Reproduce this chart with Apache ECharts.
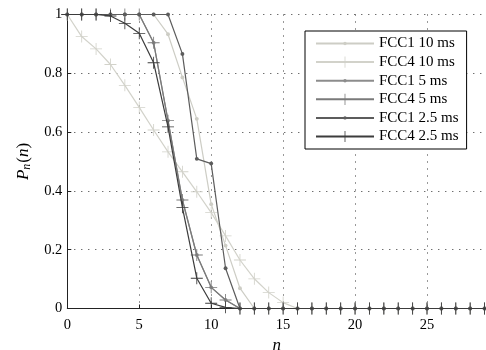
<!DOCTYPE html>
<html><head><meta charset="utf-8">
<script src="https://cdn.jsdelivr.net/npm/echarts@6/dist/echarts.min.js"></script>
<style>html,body{margin:0;padding:0;background:#fff}#c{width:486px;height:350px}</style>
</head><body><div id="c"></div>
<script>
const n = Array.from({length: 30}, (_, i) => i);
const seriesNames = ['FCC1 10 ms', 'FCC4 10 ms', 'FCC1 5 ms', 'FCC4 5 ms', 'FCC1 2.5 ms', 'FCC4 2.5 ms'];
const fcc1_10 = [1,1,1,1,1,1,1,0.933,0.786,0.645,0.355,0.214,0.069,0,0,0,0,0,0,0,0,0,0,0,0,0,0,0,0,0];
const fcc4_10 = [1,0.925,0.883,0.83,0.759,0.684,0.607,0.533,0.465,0.397,0.326,0.247,0.165,0.101,0.054,0.02,0,0,0,0,0,0,0,0,0,0,0,0,0,0];
const fcc1_5 = [1,1,1,1,1,1,0.904,0.639,0.369,0.182,0.072,0.029,0,0,0,0,0,0,0,0,0,0,0,0,0,0,0,0,0,0];
const fcc4_5 = [1,1,1,1,1,1,0.904,0.639,0.369,0.182,0.072,0.029,0,0,0,0,0,0,0,0,0,0,0,0,0,0,0,0,0,0];
const fcc1_25 = [1,1,1,1,1,1,1,1,0.866,0.509,0.493,0.137,0,0,0,0,0,0,0,0,0,0,0,0,0,0,0,0,0,0];
const fcc4_25 = [1,1,1,0.995,0.97,0.936,0.836,0.618,0.344,0.103,0.018,0.004,0,0,0,0,0,0,0,0,0,0,0,0,0,0,0,0,0,0];
const values = [fcc1_10, fcc4_10, fcc1_5, fcc4_5, fcc1_25, fcc4_25];
const colors = ['#cdcdc5', '#d2d2ca', '#8c8c8c', '#7a7a7a', '#5c5c5c', '#3c3c3c'];
const plus = 'path://M-1,-0.07H1V0.07H-1Z M-0.07,-1H0.07V1H-0.07Z';
const dot = 'path://M-1,-1M1,1M0.3,0A0.3,0.3,0,1,1,-0.3,0A0.3,0.3,0,1,1,0.3,0Z';
const symbols = [dot, plus, dot, plus, dot, plus];
const sizes = [13, 12, 13, 12, 13, 12];

const chart = echarts.init(document.getElementById('c'), null, {renderer: 'canvas'});
const font = '"Liberation Serif", "DejaVu Serif", serif';
chart.setOption({
  animation: false,
  backgroundColor: '#fff',
  grid: {left: 67.3, right: 0, top: 14.5, bottom: 41.5, containLabel: false, outerBoundsMode: 'none'},
  legend: {
    left: 305, top: 31, orient: 'vertical',
    borderColor: '#000', borderWidth: 1, backgroundColor: '#fff',
    padding: [5, 8, 5, 10], itemWidth: 58, itemHeight: 14, itemGap: 3.6,
    textStyle: {fontFamily: font, fontSize: 15, color: '#000'},
    data: seriesNames
  },
  xAxis: {
    type: 'value', min: 0, max: 29.1, interval: 5,
    name: 'n', nameLocation: 'middle', nameGap: 22,
    nameTextStyle: {fontFamily: font, fontSize: 17, fontStyle: 'italic', color: '#000'},
    axisLine: {lineStyle: {color: '#222', width: 1}},
    axisTick: {inside: true, length: 4, lineStyle: {color: '#222'}},
    axisLabel: {fontFamily: font, fontSize: 14.5, color: '#000', margin: 9, showMaxLabel: false},
    splitLine: {show: true, lineStyle: {color: '#333', type: [1, 6], width: 1}}
  },
  yAxis: {
    type: 'value', min: 0, max: 1, interval: 0.2,
    name: '{i|P}{s|n}{r|(}{i|n}{r|)}', nameLocation: 'middle', nameGap: 31, nameRotate: 90,
    nameTextStyle: {
      fontFamily: font, fontSize: 17, color: '#000',
      rich: {
        i: {fontFamily: font, fontSize: 17, fontStyle: 'italic', color: '#000'},
        s: {fontFamily: font, fontSize: 12, fontStyle: 'italic', color: '#000', padding: [8, 1, 0, 0]},
        r: {fontFamily: font, fontSize: 17, color: '#000'}
      }
    },
    axisLine: {show: true, lineStyle: {color: '#222', width: 1}},
    axisTick: {show: true, inside: true, length: 4, lineStyle: {color: '#222'}},
    axisLabel: {fontFamily: font, fontSize: 14.5, color: '#000', margin: 5},
    splitLine: {show: true, lineStyle: {color: '#333', type: [1, 6], width: 1}}
  },
  series: seriesNames.map((name, k) => ({
    name, type: 'line',
    data: n.map((x, i) => [x, values[k][i]]),
    symbol: symbols[k], symbolSize: sizes[k], showSymbol: true,
    color: colors[k],
    lineStyle: {color: colors[k], width: 1.2},
    itemStyle: {color: colors[k]},
    z: 2 + k
  }))
});
</script></body></html>
